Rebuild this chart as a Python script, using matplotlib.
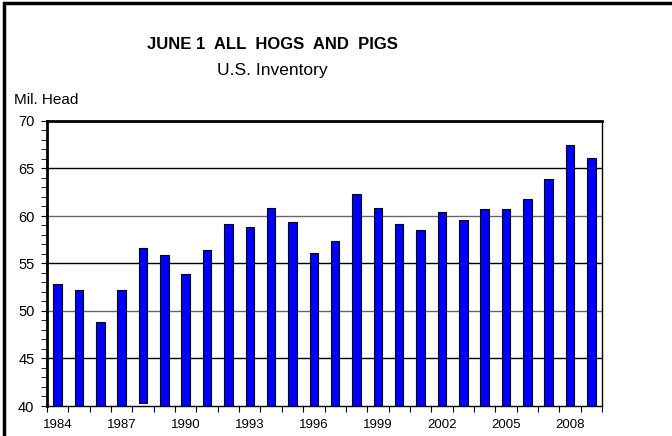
import numpy as np
import matplotlib
matplotlib.use("Agg")
import matplotlib.pyplot as plt
from matplotlib.patches import Rectangle

plt.rcParams['font.family'] = ['Liberation Sans', 'DejaVu Sans']

years = list(range(1984, 2010))
head = [52.8, 52.2, 48.8, 52.2, 56.6, 55.9, 53.9, 56.4, 59.2, 58.8,
        60.8, 59.4, 56.1, 57.4, 62.3, 60.8, 59.2, 58.5, 60.4, 59.6,
        60.7, 60.7, 61.8, 63.9, 67.5, 66.1]
# the 1988 bar in the source does not reach the axis
bottoms = [40.0] * len(years)
bottoms[4] = 40.35
label_years = [1984, 1987, 1990, 1993, 1996, 1999, 2002, 2005, 2008]

fig = plt.figure(figsize=(6.72, 4.36), dpi=100)
ax = fig.add_axes([47 / 672, 30 / 436, 555 / 672, 285 / 436])

x = np.arange(len(years))
heights = [h - b for h, b in zip(head, bottoms)]
ax.bar(x, heights, bottom=bottoms, width=0.4, color='#0000ff',
       edgecolor='black', linewidth=0.8, zorder=3)

ax.set_xlim(-0.5, len(years) - 0.5)
ax.set_ylim(40, 70)

# category boundaries get the tick marks, labels sit under the bars
ax.set_xticks(np.arange(-0.5, len(years), 1))
ax.set_xticklabels([])
ax.set_xticks([years.index(y) for y in label_years], minor=True)
ax.set_xticklabels([str(y) for y in label_years], minor=True)
ax.tick_params(axis='x', which='major', direction='out', length=4, width=0.8)
ax.tick_params(axis='x', which='minor', length=0, pad=9, labelsize=9.5)

ax.set_yticks(np.arange(40, 71, 5))
ax.set_yticks(np.arange(40, 71, 1), minor=True)
ax.tick_params(axis='y', which='major', direction='out', length=4, width=0.8,
               labelsize=10.5, pad=5)
ax.tick_params(axis='y', which='minor', direction='out', length=4, width=0.6)

for v in [45, 50, 55, 60, 65]:
    c = '#666666' if v % 10 == 0 else 'black'
    ax.axhline(v, color=c, linewidth=1.0, zorder=1)

ax.spines['top'].set_linewidth(2)
ax.spines['left'].set_linewidth(2)
ax.spines['right'].set_linewidth(1)
ax.spines['bottom'].set_linewidth(1)

fig.text(272 / 672, 1 - 44 / 436, 'JUNE 1  ALL  HOGS  AND  PIGS', ha='center',
         va='center', fontsize=12, fontweight='bold')
fig.text(272 / 672, 1 - 71 / 436, 'U.S. Inventory', ha='center', va='center',
         fontsize=12.5)
fig.text(14 / 672, 1 - 100 / 436, 'Mil. Head', ha='left', va='center',
         fontsize=11)

fig.patches.append(Rectangle((4 / 672, -0.1), 1.0, 1 - 3 / 436 + 0.1,
                             transform=fig.transFigure, fill=False,
                             edgecolor='black', linewidth=2.5))

fig.savefig('out.png', dpi=100)
